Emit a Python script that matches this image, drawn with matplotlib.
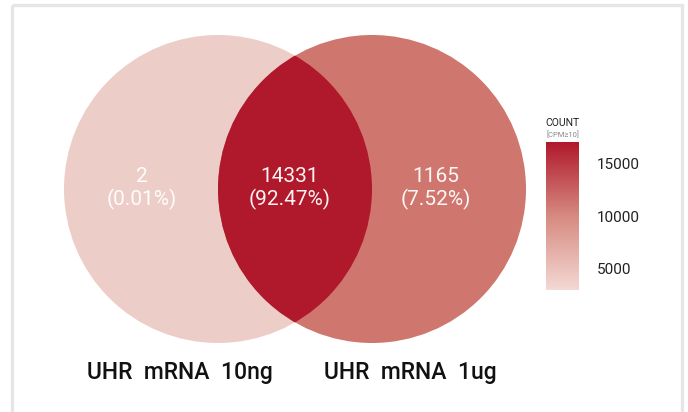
import matplotlib
matplotlib.use("Agg")
import matplotlib.pyplot as plt
import numpy as np
from matplotlib.patches import Circle, Rectangle
from matplotlib.colors import LinearSegmentedColormap, Normalize
from matplotlib.cm import ScalarMappable

plt.rcParams['font.family'] = ['Roboto', 'DejaVu Sans']

# data
set_names = ["UHR  mRNA  10ng", "UHR  mRNA  1ug"]
region_counts = [2, 14331, 1165]          # only-left, both, only-right
region_percents = [0.01, 92.47, 7.52]
cbar_ticks = [5000, 10000, 15000]
cbar_range = [3000, 17000]

W, H = 688, 412
fig = plt.figure(figsize=(W / 100, H / 100), dpi=100)
ax = fig.add_axes([0, 0, 1, 1])
ax.set_xlim(0, W)
ax.set_ylim(H, 0)
ax.axis('off')

# frame
ax.add_patch(Rectangle((11.5, 4.5), 670.5, 420, fill=False, edgecolor='#e6e6e6',
                       linewidth=2.4, clip_on=False))

c_left, c_right, c_both = '#edcdc8', '#cf766e', '#b0182b'
r = 154
cy = 189
cxl, cxr = 218, 372
left = Circle((cxl, cy), r, facecolor=c_left, edgecolor='none')
right = Circle((cxr, cy), r, facecolor=c_right, edgecolor='none')
ax.add_patch(left)
ax.add_patch(right)
inter = Circle((cxr, cy), r, facecolor=c_both, edgecolor='none')
ax.add_patch(inter)
clipc = Circle((cxl, cy), r, transform=ax.transData)
inter.set_clip_path(clipc)

xs = [142, 290, 436]
for x, n, p in zip(xs, region_counts, region_percents):
    ax.text(x, 176, f"{n}", ha='center', va='center', color='white', fontsize=15, alpha=0.95)
    ax.text(x, 199, f"({p:.2f}%)", ha='center', va='center', color='white', fontsize=15, alpha=0.95)

ax.text(180, 372, set_names[0], ha='center', va='center', fontsize=16.5, color='#111111',
        fontweight='medium')
ax.text(410, 372, set_names[1], ha='center', va='center', fontsize=16.5, color='#111111',
        fontweight='medium')

# colorbar
cmap = LinearSegmentedColormap.from_list('c', ['#f3d8d3', '#d68a80', '#b0182b'])
cax = fig.add_axes([546 / W, (H - 290) / H, 33 / W, 148 / H])
sm = ScalarMappable(norm=Normalize(*cbar_range), cmap=cmap)
cb = fig.colorbar(sm, cax=cax, ticks=cbar_ticks)
cb.outline.set_visible(False)
cax.tick_params(length=0, pad=13, labelsize=11, colors='#222222')
ax.text(562.5, 123, "COUNT", ha='center', va='center', fontsize=7.5, color='#222222')
ax.text(562.5, 134, "[CPM≥10]", ha='center', va='center', fontsize=5.5, color='#888888')

fig.savefig('out.png', dpi=100)
